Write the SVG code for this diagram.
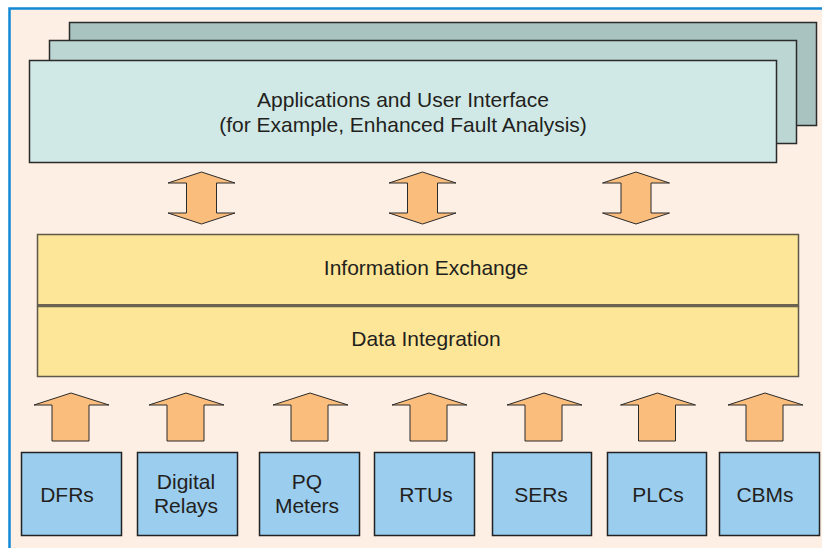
<svg xmlns="http://www.w3.org/2000/svg" width="822" height="548" viewBox="0 0 822 548">
  <style>
    .lbl { font-family: "Liberation Sans", Arial, sans-serif; font-size: 21px; fill: #231f20; text-anchor: middle; }
    .layer { stroke: #2b2b2b; stroke-width: 1.5; }
    .band { fill: #fde697; stroke: #5e584a; stroke-width: 1.5; }
    .src { fill: #9bcdef; stroke: #222; stroke-width: 1.5; }
    .arr { fill: #fbbd7c; stroke: #2a2a2a; stroke-width: 1; stroke-linejoin: miter; }
  </style>
  <defs>
    <!-- up arrow, origin at tip centre -->
    <path id="upArrow" class="arr" d="M0,0 L38,12 L18,12 L18,48 L-19,48 L-19,12 L-37,12 Z"/>
    <!-- double-headed arrow, origin at top tip -->
    <path id="dblArrow" class="arr" d="M0,0 L33.5,11 L15,11 L15,41 L33.5,41 L0,52 L-33.5,41 L-15,41 L-15,11 L-33.5,11 Z"/>
  </defs>

  <!-- page background and frame -->
  <rect x="0" y="0" width="822" height="548" fill="#ffffff"/>
  <rect x="9.5" y="8.5" width="830" height="560" fill="#fdefe3" stroke="#1189d6" stroke-width="2.5"/>

  <!-- stacked application layers -->
  <g id="apps">
    <rect class="layer" x="69.5" y="22.5" width="747" height="103" fill="#a9c4c0"/>
    <rect class="layer" x="49.5" y="40.5" width="747" height="103" fill="#bcd6d3"/>
    <rect class="layer" x="29.5" y="60.5" width="747" height="102" fill="#d0e9e6"/>
    <text class="lbl" x="403" y="107">Applications and User Interface</text>
    <text class="lbl" x="403" y="132">(for Example, Enhanced Fault Analysis)</text>
  </g>

  <g id="info-exchange">
    <rect class="band" x="37.5" y="234.5" width="761" height="71"/>
    <text class="lbl" x="426" y="275">Information Exchange</text>
  </g>

  <g id="data-integration">
    <rect class="band" x="37.5" y="306.5" width="761" height="70"/>
    <line x1="37.5" y1="305.5" x2="798.5" y2="305.5" stroke="#6b6352" stroke-width="3"/>
    <text class="lbl" x="426" y="346">Data Integration</text>
  </g>

  <g id="dfrs">
    <rect class="src" x="21.5" y="452.5" width="100" height="83"/>
    <text class="lbl" x="67" y="502">DFRs</text>
  </g>
  <g id="digital-relays">
    <rect class="src" x="137.5" y="452.5" width="100" height="83"/>
    <text class="lbl" x="186" y="489">Digital</text>
    <text class="lbl" x="186" y="513">Relays</text>
  </g>
  <g id="pq-meters">
    <rect class="src" x="259.5" y="452.5" width="100" height="83"/>
    <text class="lbl" x="307" y="489">PQ</text>
    <text class="lbl" x="307" y="513">Meters</text>
  </g>
  <g id="rtus">
    <rect class="src" x="374.5" y="452.5" width="100" height="83"/>
    <text class="lbl" x="426" y="502">RTUs</text>
  </g>
  <g id="sers">
    <rect class="src" x="492.5" y="452.5" width="99" height="83"/>
    <text class="lbl" x="541" y="502">SERs</text>
  </g>
  <g id="plcs">
    <rect class="src" x="607.5" y="452.5" width="99" height="83"/>
    <text class="lbl" x="658" y="502">PLCs</text>
  </g>
  <g id="cbms">
    <rect class="src" x="719.5" y="452.5" width="100" height="83"/>
    <text class="lbl" x="765" y="502">CBMs</text>
  </g>

  <g id="connectors">
    <use href="#dblArrow" x="201.5" y="172"/>
    <use href="#dblArrow" x="422.5" y="172"/>
    <use href="#dblArrow" x="636" y="172"/>
    <use href="#upArrow" x="71" y="393"/>
    <use href="#upArrow" x="186" y="393"/>
    <use href="#upArrow" x="310" y="393"/>
    <use href="#upArrow" x="429" y="393"/>
    <use href="#upArrow" x="544" y="393"/>
    <use href="#upArrow" x="657.5" y="393"/>
    <use href="#upArrow" x="765" y="393"/>
  </g>
</svg>
